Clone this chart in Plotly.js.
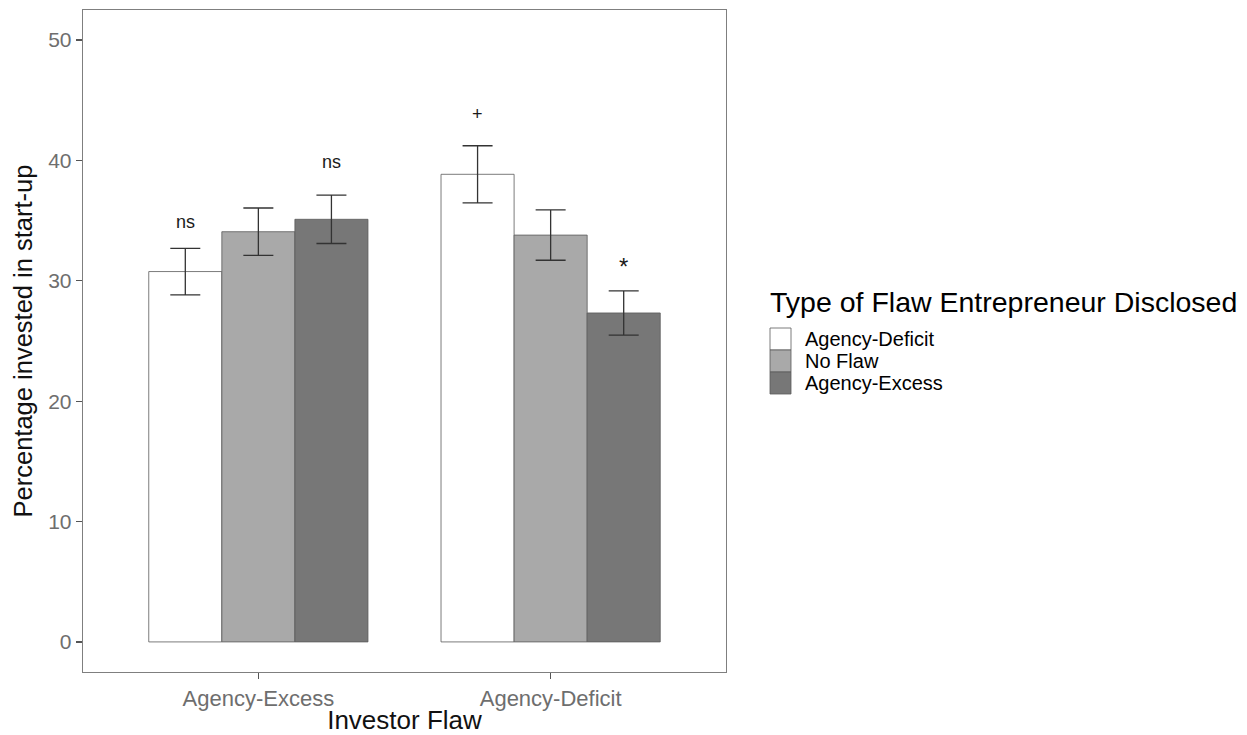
<!DOCTYPE html>
<html>
<head>
<meta charset="utf-8">
<script src="https://cdn.plot.ly/plotly-3.0.1.min.js"></script>
<style>
  html, body { margin: 0; padding: 0; background: #ffffff; }
  #chart { width: 1247px; height: 735px; }
</style>
</head>
<body>
<div id="chart"></div>
<script>
// ---- data ----
const investorFlaw = ['Agency-Excess', 'Agency-Deficit'];
const seriesNames = ['Agency-Deficit', 'No Flaw', 'Agency-Excess'];
const meanAgencyDeficit = [30.77, 38.85];
const meanNoFlaw = [34.08, 33.80];
const meanAgencyExcess = [35.11, 27.33];
const seAgencyDeficit = [1.93, 2.37];
const seNoFlaw = [1.97, 2.09];
const seAgencyExcess = [2.01, 1.84];
// significance labels: group index, series index, label, y position (data units)
const sigGroup = [0, 0, 1, 1];
const sigSeries = [0, 2, 0, 2];
const sigText = ['ns', 'ns', '+', '*'];
const sigY = [34.9, 39.9, 43.9, 31.2];
const yTicks = [0, 10, 20, 30, 40, 50];

// ---- styling ----
const fills = ['#ffffff', '#a9a9a9', '#777777'];
const means = [meanAgencyDeficit, meanNoFlaw, meanAgencyExcess];
const ses = [seAgencyDeficit, seNoFlaw, seAgencyExcess];
const FONT = 'Liberation Sans, Arial, Helvetica, sans-serif';

const traces = seriesNames.map((name, i) => ({
  type: 'bar',
  name: name,
  x: investorFlaw,
  y: means[i],
  marker: { color: fills[i], line: { color: '#5a5a5a', width: 0.8 } },
  error_y: { type: 'data', array: ses[i], visible: true, color: '#333333', thickness: 1.3, width: 15 },
  showlegend: false,
  hoverinfo: 'skip'
}));

const barW = 0.25; // each bar 0.25 category units (group width 0.75)
const annotations = sigText.map((t, k) => ({
  x: sigGroup[k] + (sigSeries[k] - 1) * barW,
  y: sigY[k],
  xref: 'x', yref: 'y',
  text: t,
  showarrow: false,
  xanchor: 'center', yanchor: 'middle',
  font: { family: FONT, size: t === '*' ? 24 : 18, color: '#1a1a1a' }
}));

// manual legend (paper coordinates; plot area is 643 x 662 px)
const pw = 643, ph = 662;
const px = v => (v - 83) / pw;
const py = v => (672 - v) / ph;
annotations.push({
  x: px(768), y: py(302), xref: 'paper', yref: 'paper',
  text: 'Type of Flaw Entrepreneur Disclosed', showarrow: false,
  xanchor: 'left', yanchor: 'middle',
  font: { family: FONT, size: 28.5, color: '#000000' }
});
const shapes = [];
const keyTop = 328, keyH = 22;
seriesNames.forEach((name, i) => {
  const t = keyTop + i * keyH;
  shapes.push({
    type: 'rect', xref: 'paper', yref: 'paper',
    x0: px(770), x1: px(791), y0: py(t + keyH), y1: py(t),
    fillcolor: fills[i], line: { color: '#5a5a5a', width: 0.8 }
  });
  annotations.push({
    x: px(803), y: py(t + keyH / 2), xref: 'paper', yref: 'paper',
    text: name, showarrow: false, xanchor: 'left', yanchor: 'middle',
    font: { family: FONT, size: 20, color: '#000000' }
  });
});

const layout = {
  width: 1247, height: 735,
  margin: { l: 83, r: 521, t: 10, b: 63, pad: 0 },
  paper_bgcolor: '#ffffff', plot_bgcolor: '#ffffff',
  font: { family: FONT },
  barmode: 'group', bargap: 0.25, bargroupgap: 0,
  showlegend: false,
  xaxis: {
    type: 'category', categoryorder: 'array', categoryarray: investorFlaw,
    range: [-0.6, 1.6], showgrid: false, zeroline: false,
    showline: true, mirror: true, linecolor: '#7f7f7f', linewidth: 1.3,
    ticks: 'outside', ticklen: 6, tickwidth: 1.3, tickcolor: '#555555',
    tickfont: { family: FONT, size: 22, color: '#6e6e6e' },
    title: { text: 'Investor Flaw', font: { family: FONT, size: 26, color: '#111111' }, standoff: 4 },
    automargin: false
  },
  yaxis: {
    range: [-2.5, 52.5], tickvals: yTicks, ticktext: yTicks.map(String),
    showgrid: false, zeroline: false,
    showline: true, mirror: true, linecolor: '#7f7f7f', linewidth: 1.3,
    ticks: 'outside', ticklen: 6, tickwidth: 1.3, tickcolor: '#555555',
    tickfont: { family: FONT, size: 21, color: '#6e6e6e' },
    title: { text: 'Percentage invested in start-up', font: { family: FONT, size: 25.5, color: '#111111' }, standoff: 8 },
    automargin: false
  },
  annotations: annotations,
  shapes: shapes
};

Plotly.newPlot('chart', traces, layout, { displayModeBar: false, staticPlot: true });
</script>
</body>
</html>
